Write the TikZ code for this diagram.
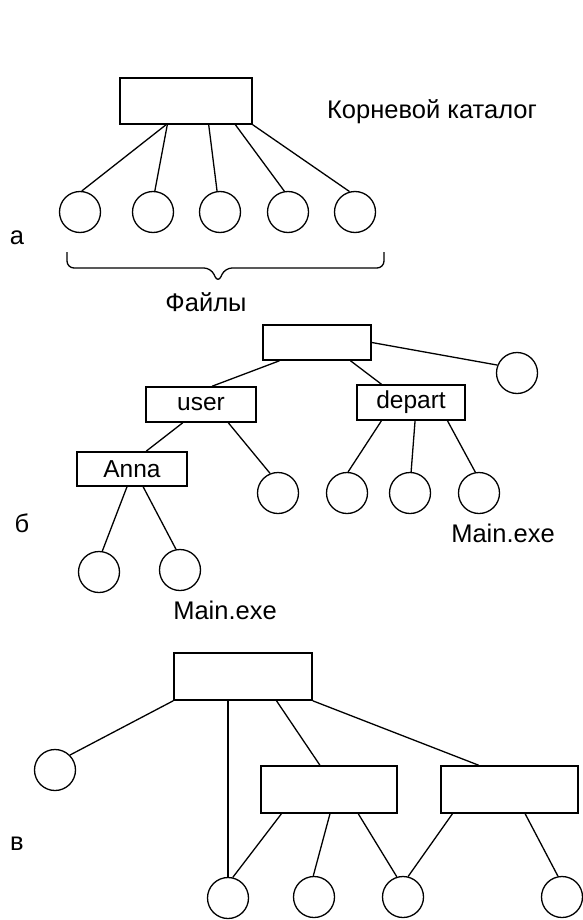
\documentclass[tikz,border=0pt]{standalone}
\usepackage{fontspec}
\setmainfont{Liberation Sans}
\usetikzlibrary{calc}
\begin{document}
\begin{tikzpicture}[x=1pt,y=-1pt,
  box/.style={draw, line width=1.6pt, rectangle, inner sep=0pt,
    font=\fontsize{24.5}{28}\selectfont},
  file/.style={draw, circle, line width=1.3pt, minimum size=41pt, inner sep=0pt},
  link/.style={line width=1.3pt},
  thick link/.style={line width=2.4pt},
  lbl/.style={font=\fontsize{25.5}{29}\selectfont, inner sep=0pt}]
\useasboundingbox (0,0) rectangle (583,920);

% ---------------- a ----------------
\node[box, minimum width=132pt, minimum height=46pt] (RA) at (186,101) {};
\node[lbl] (rootlbl) at (432,112) {Корневой каталог};
\node[file] (A1) at (80,212) {};
\node[file] (A2) at (153,212) {};
\node[file] (A3) at (220,212) {};
\node[file] (A4) at (288,212) {};
\node[file] (A5) at (355,212) {};
\draw[link] ($(RA.south west)!0.35!(RA.south east)$) -- (A1.85);
\draw[link] ($(RA.south west)!0.36!(RA.south east)$) -- (A2.85);
\draw[link] ($(RA.south west)!0.67!(RA.south east)$) -- (A3.98);
\draw[link] ($(RA.south west)!0.87!(RA.south east)$) -- (A4.100);
\draw[link] (RA.south east) -- (A5.105);
\coordinate (brL) at (67,252);
\coordinate (brR) at (384,252);
\coordinate (brT) at (218,283);
\draw[link, rounded corners=7pt] (brL) -- (67,268) -- (211,268) -- (brT) -- (225,268) -- (384,268) -- (brR);
\node[lbl] (files) at (206,302) {Файлы};
\node[lbl] (la) at (17,238) {а};

% ---------------- b ----------------
\node[box, minimum width=108pt, minimum height=35pt] (RB) at (317,342.5) {};
\node[file] (B0) at (517,373) {};
\node[box, minimum width=110pt, minimum height=35pt] (U) at (201,404.5) {user};
\node[box, minimum width=108pt, minimum height=35pt] (D) at (411,402.5) {depart};
\node[box, minimum width=110pt, minimum height=34pt] (N) at (132,469) {Anna};
\node[file] (B1) at (278,493) {};
\node[file] (B2) at (347,493) {};
\node[file] (B3) at (410,493) {};
\node[file] (B4) at (479,493) {};
\node[file] (B5) at (99,572) {};
\node[file] (B6) at (180,570) {};
\draw[link] (RB.east) -- (B0.158);
\draw[link] ($(RB.south west)!0.157!(RB.south east)$) -- ($(U.north west)!0.6!(U.north east)$);
\draw[link] ($(RB.south west)!0.806!(RB.south east)$) -- ($(D.north west)!0.23!(D.north east)$);
\draw[link] ($(U.south west)!0.336!(U.south east)$) -- ($(N.north west)!0.627!(N.north east)$);
\draw[link] ($(U.south west)!0.745!(U.south east)$) -- (B1.112);
\draw[link] ($(D.south west)!0.23!(D.south east)$) -- (B2.87);
\draw[link] ($(D.south west)!0.537!(D.south east)$) -- (B3.87);
\draw[link] ($(D.south west)!0.833!(D.south east)$) -- (B4.100);
\draw[link] ($(N.south west)!0.455!(N.south east)$) -- (B5.81);
\draw[link] ($(N.south west)!0.6!(N.south east)$) -- (B6.101);
\node[lbl] (mainR) at (503,533) {Main.exe};
\node[lbl] (mainL) at (225,610) {Main.exe};
\node[lbl] (lb) at (22,523) {б};

% ---------------- c ----------------
\node[box, minimum width=138pt, minimum height=47pt] (RC) at (243,676.5) {};
\node[file] (C0) at (55,770) {};
\node[box, minimum width=136pt, minimum height=47pt] (M) at (329,789.5) {};
\node[box, minimum width=137pt, minimum height=47pt] (R) at (509.5,789.5) {};
\node[file] (C1) at (228,898) {};
\node[file] (C2) at (314,897) {};
\node[file] (C3) at (403,897) {};
\node[file] (C4) at (562,897) {};
\draw[link] (RC.south west) -- (C0.45);
\draw[thick link] (C1 |- RC.south) -- (C1.north);
\draw[link] ($(RC.south west)!0.74!(RC.south east)$) -- ($(M.north west)!0.434!(M.north east)$);
\draw[link] (RC.south east) -- ($(R.north west)!0.277!(R.north east)$);
\draw[link] ($(M.south west)!0.154!(M.south east)$) -- (C1.77);
\draw[link] ($(M.south west)!0.507!(M.south east)$) -- (C2.92);
\draw[link] ($(M.south west)!0.713!(M.south east)$) -- (C3.107);
\draw[link] ($(R.south west)!0.088!(R.south east)$) -- (C3.76);
\draw[link] ($(R.south west)!0.613!(R.south east)$) -- (C4.101);
\node[lbl] (lc) at (17,844) {в};
\end{tikzpicture}
\end{document}
